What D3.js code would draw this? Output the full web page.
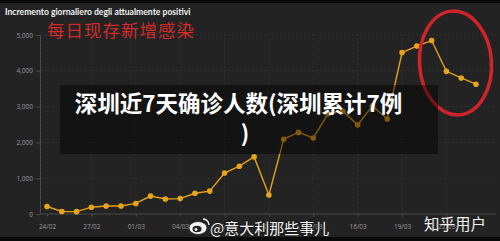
<!DOCTYPE html>
<html>
<head>
<meta charset="utf-8">
<script src="https://cdn.jsdelivr.net/npm/d3@7"></script>
<style>
  body { margin: 0; background: #000; }
  svg { display: block; }
  .tick-label { font-family: "Open Sans", "DejaVu Sans", sans-serif; font-size: 6.5px; fill: #9a9a9a; }
</style>
</head>
<body>
<svg width="500" height="241"></svg>
<script>
// ***********************************
// Data

// days shown, 24/02 to 24/03 (2020, leap year)
var days = ["2020-02-24", "2020-02-25", "2020-02-26", "2020-02-27", "2020-02-28", "2020-02-29",
  "2020-03-01", "2020-03-02", "2020-03-03", "2020-03-04", "2020-03-05", "2020-03-06",
  "2020-03-07", "2020-03-08", "2020-03-09", "2020-03-10", "2020-03-11", "2020-03-12",
  "2020-03-13", "2020-03-14", "2020-03-15", "2020-03-16", "2020-03-17", "2020-03-18",
  "2020-03-19", "2020-03-20", "2020-03-21", "2020-03-22", "2020-03-23", "2020-03-24"];

// daily increase of currently positive cases
var increments = [210, 70, 65, 190, 225, 225, 295, 500, 420, 430, 580, 640,
  1145, 1335, 1595, 530, 2090, 2280, 2125, 2800, 2870, 2490, 3020, 2655,
  4510, 4690, 4845, 3985, 3800, 3625];

// axis ticks
var yTicks = [0, 1000, 2000, 3000, 4000, 5000];
var xTickDays = ["2020-02-24", "2020-02-27", "2020-03-01", "2020-03-04", "2020-03-07",
  "2020-03-10", "2020-03-13", "2020-03-16", "2020-03-19", "2020-03-22"];

var parseDay = d3.utcParse("%Y-%m-%d");
var data = days.map(function(d, i) { return { date: parseDay(d), value: increments[i] }; });

// ***********************************
// Set up svg and scales
var svg = d3.select("svg"),
  width = +svg.attr("width"),
  height = +svg.attr("height");

var x = d3.scaleUtc()
  .domain([parseDay("2020-02-24"), parseDay("2020-03-24")])
  .range([47, 476]);

var y = d3.scaleLinear()
  .domain([0, 5000])
  .range([214, 35]);

var plotLeft = 40, plotRight = 496;

// background (photo of a dark screen, black strips top and bottom)
svg.append("rect").attr("width", width).attr("height", height).attr("fill", "#0a0a0a");
svg.append("rect").attr("y", 3).attr("width", width).attr("height", 234).attr("fill", "#232323");

// title
svg.append("text")
  .attr("x", 5).attr("y", 14.5)
  .attr("font-family", "Lato, 'DejaVu Sans', sans-serif")
  .attr("font-weight", "bold")
  .attr("font-size", "8.6px")
  .attr("fill", "#f2f2f2")
  .text("Incremento giornaliero degli attualmente positivi");

// ***********************************
// Grid lines
var grid = svg.append("g").attr("class", "grid");

grid.selectAll(".hgrid")
  .data(yTicks.slice(1))
  .enter().append("line")
  .attr("x1", plotLeft).attr("x2", plotRight)
  .attr("y1", function(d) { return y(d); })
  .attr("y2", function(d) { return y(d); })
  .attr("stroke", "#3a3a3a")
  .attr("stroke-width", 0.7)
  .attr("stroke-dasharray", "2,2");

grid.selectAll(".vgrid")
  .data(xTickDays.map(parseDay))
  .enter().append("line")
  .attr("x1", function(d) { return x(d); })
  .attr("x2", function(d) { return x(d); })
  .attr("y1", 34).attr("y2", 214)
  .attr("stroke", "#353535")
  .attr("stroke-width", 0.7)
  .attr("stroke-dasharray", "2,2");

// ***********************************
// Axes
var yAxis = d3.axisLeft(y)
  .tickValues(yTicks)
  .tickSize(4)
  .tickPadding(3)
  .tickFormat(d3.format(","));

var gy = svg.append("g")
  .attr("transform", "translate(" + plotLeft + ",0)")
  .call(yAxis);
gy.select(".domain").attr("stroke", "#4a4a4a");
gy.selectAll(".tick line").attr("stroke", "#4a4a4a");
gy.selectAll(".tick text").attr("class", "tick-label").attr("font-family", null).attr("font-size", null);

var xAxis = d3.axisBottom(x)
  .tickValues(xTickDays.map(parseDay))
  .tickSize(3)
  .tickPadding(7)
  .tickFormat(d3.utcFormat("%d/%m"));

var gx = svg.append("g")
  .attr("transform", "translate(0," + y(0) + ")")
  .call(xAxis);
gx.select(".domain").attr("d", "M" + plotLeft + ",0H" + plotRight).attr("stroke", "#4a4a4a");
gx.selectAll(".tick line").attr("stroke", "#4a4a4a");
gx.selectAll(".tick text").attr("class", "tick-label").attr("font-family", null).attr("font-size", null);

// ***********************************
// Line and points
var line = d3.line()
  .x(function(d) { return x(d.date); })
  .y(function(d) { return y(d.value); });

svg.append("path")
  .datum(data)
  .attr("d", line)
  .attr("fill", "none")
  .attr("stroke", "#e5a11c")
  .attr("stroke-width", 1.4);

svg.selectAll(".dot")
  .data(data)
  .enter().append("circle")
  .attr("class", "dot")
  .attr("cx", function(d) { return x(d.date); })
  .attr("cy", function(d) { return y(d.value); })
  .attr("r", 2.8)
  .attr("fill", "#e9a41d");

// ***********************************
// Annotations pasted over the screenshot

// red handwritten caption
svg.append("text")
  .attr("x", 47).attr("y", 37)
  .attr("font-family", "'Noto Sans CJK SC', sans-serif")
  .attr("font-size", "17.5px")
  .attr("letter-spacing", "1px")
  .attr("fill", "#d42a2a")
  .text("每日现存新增感染");

// red ellipse round the last days
svg.append("ellipse")
  .attr("cx", 455.5).attr("cy", 63)
  .attr("rx", 36).attr("ry", 52)
  .attr("fill", "none")
  .attr("stroke", "#d1232a")
  .attr("stroke-width", 3.5)
  .attr("transform", "rotate(-4,455.5,63)");

// dark caption box
svg.append("rect")
  .attr("x", 60).attr("y", 85)
  .attr("width", 378).attr("height", 69)
  .attr("fill", "#000")
  .attr("fill-opacity", 0.45);

var caption = svg.append("text")
  .attr("text-anchor", "middle")
  .attr("font-family", "'Noto Sans CJK SC', sans-serif")
  .attr("font-weight", "bold")
  .attr("font-size", "22.5px")
  .attr("fill", "#ffffff");
caption.append("tspan").attr("x", 238.5).attr("y", 112).text("深圳近7天确诊人数(深圳累计7例");
caption.append("tspan").attr("x", 245).attr("y", 142).text(")");

// watermarks
var wb = svg.append("g").attr("transform", "translate(198,228)");
wb.append("ellipse").attr("rx", 9).attr("ry", 6.5).attr("fill", "#f4f4f4").attr("stroke", "#222").attr("stroke-width", 0.8);
wb.append("ellipse").attr("cx", -1).attr("cy", 1).attr("rx", 4.5).attr("ry", 3.3).attr("fill", "#222");
wb.append("circle").attr("cx", -2).attr("cy", 1.5).attr("r", 1.4).attr("fill", "#f4f4f4");
wb.append("path").attr("d", "M5,-9 A6,6 0 0 1 11,-3").attr("fill", "none").attr("stroke", "#f4f4f4").attr("stroke-width", 1.4);

svg.append("text")
  .attr("x", 210).attr("y", 234)
  .attr("font-family", "'Noto Sans CJK SC', sans-serif")
  .attr("font-size", "15px")
  .attr("fill", "#f4f4f4")
  .attr("stroke", "#1a1a1a")
  .attr("stroke-width", 1.6)
  .attr("paint-order", "stroke")
  .text("@意大利那些事儿");

svg.append("text")
  .attr("x", 424).attr("y", 230)
  .attr("font-family", "'Noto Sans CJK SC', sans-serif")
  .attr("font-size", "15.5px")
  .attr("fill", "#f0f0f0")
  .text("知乎用户");
</script>
</body>
</html>
